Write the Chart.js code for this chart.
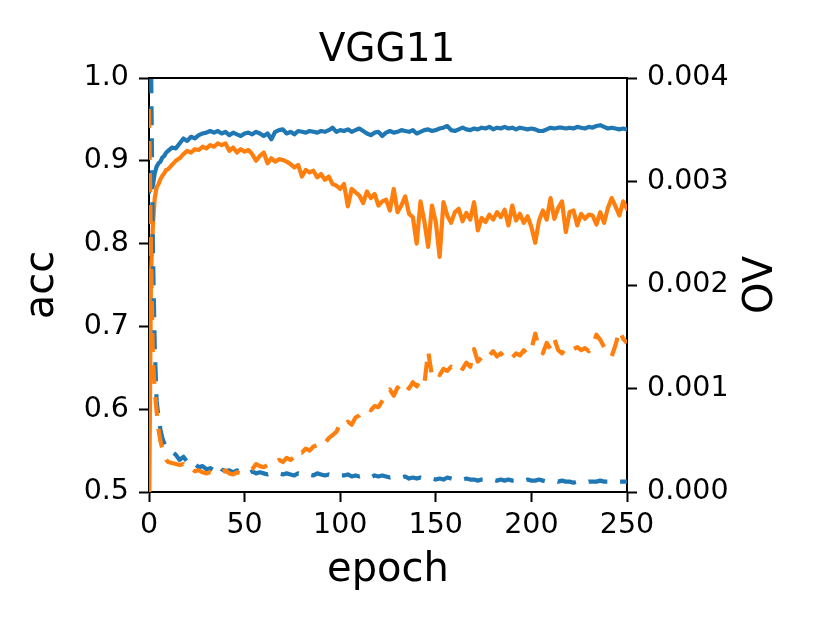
<!DOCTYPE html>
<html>
<head>
<meta charset="utf-8">
<script src="https://cdn.jsdelivr.net/npm/chart.js@4.4.0/dist/chart.umd.min.js"></script>
<style>
  html, body { margin: 0; padding: 0; background: #fff; }
  #wrap { width: 830px; height: 623px; }
</style>
</head>
<body>
<div id="wrap"><canvas id="chart"></canvas></div>
<script>
const titleText = 'VGG11';
const xLabel = 'epoch';
const yLabel = 'acc';
const y2Label = 'OV';

const xTicks = [0, 50, 100, 150, 200, 250];
const accTicks = [0.5, 0.6, 0.7, 0.8, 0.9, 1.0];
const ovTicks = [0, 0.001, 0.002, 0.003, 0.004];

const epochs = [
  0, 1, 2, 3, 4, 5, 6, 7, 8, 9, 10,
  12, 14, 16, 18, 20, 22, 24, 26, 28, 30,
  32, 34, 36, 38, 40, 42, 44, 46, 48, 50,
  52, 54, 56, 58, 60, 62, 64, 66, 68, 70,
  72, 74, 76, 78, 80, 82, 84, 86, 88, 90,
  92, 94, 96, 98, 100, 102, 104, 106, 108, 110,
  112, 114, 116, 118, 120, 122, 124, 126, 128, 130,
  132, 134, 136, 138, 140, 142, 144, 146, 148, 150,
  152, 154, 156, 158, 160, 162, 164, 166, 168, 170,
  172, 174, 176, 178, 180, 182, 184, 186, 188, 190,
  192, 194, 196, 198, 200, 202, 204, 206, 208, 210,
  212, 214, 216, 218, 220, 222, 224, 226, 228, 230,
  232, 234, 236, 238, 240, 242, 244, 246, 248, 250
];

// acc, blue solid
const accBlue = [
  0.862, 0.872, 0.870, 0.885, 0.893, 0.897, 0.899, 0.904, 0.906, 0.910, 0.912,
  0.916, 0.915, 0.921, 0.927, 0.924, 0.929, 0.927, 0.931, 0.933, 0.934,
  0.936, 0.934, 0.936, 0.933, 0.935, 0.931, 0.934, 0.932, 0.930, 0.933,
  0.934, 0.932, 0.935, 0.933, 0.930, 0.933, 0.926, 0.935, 0.937, 0.938,
  0.933, 0.935, 0.932, 0.936, 0.935, 0.934, 0.936, 0.935, 0.934, 0.936,
  0.935, 0.937, 0.940, 0.935, 0.937, 0.936, 0.938, 0.935, 0.937, 0.939,
  0.936, 0.933, 0.931, 0.934, 0.935, 0.930, 0.934, 0.936, 0.934, 0.935,
  0.937, 0.936, 0.935, 0.937, 0.933, 0.935, 0.937, 0.938, 0.936, 0.937,
  0.939, 0.940, 0.942, 0.937, 0.936, 0.938, 0.940, 0.938, 0.937, 0.939,
  0.938, 0.940, 0.939, 0.941, 0.938, 0.940, 0.939, 0.941, 0.939, 0.940,
  0.938, 0.940, 0.939, 0.938, 0.939, 0.938, 0.936, 0.936, 0.938, 0.940,
  0.939, 0.940, 0.940, 0.939, 0.940, 0.939, 0.941, 0.940, 0.939, 0.941,
  0.940, 0.942, 0.943, 0.941, 0.939, 0.940, 0.939, 0.938, 0.939, 0.938
];

// acc, orange solid
const accOrange = [
  0.450, 0.760, 0.820, 0.855, 0.868, 0.872, 0.878, 0.882, 0.885, 0.889, 0.890,
  0.895, 0.900, 0.903, 0.908, 0.912, 0.910, 0.914, 0.913, 0.917, 0.915,
  0.919, 0.917, 0.921, 0.919, 0.921, 0.912, 0.916, 0.910, 0.914, 0.911,
  0.913, 0.908, 0.900, 0.906, 0.910, 0.897, 0.903, 0.899, 0.902, 0.901,
  0.899, 0.896, 0.892, 0.895, 0.881, 0.889, 0.886, 0.888, 0.880, 0.884,
  0.877, 0.881, 0.872, 0.870, 0.866, 0.872, 0.845, 0.866, 0.862, 0.858,
  0.849, 0.863, 0.855, 0.860, 0.846, 0.851, 0.853, 0.840, 0.866, 0.838,
  0.846, 0.857, 0.836, 0.832, 0.800, 0.851, 0.827, 0.796, 0.846, 0.826,
  0.784, 0.850, 0.834, 0.825, 0.838, 0.842, 0.827, 0.837, 0.829, 0.850,
  0.816, 0.831, 0.826, 0.835, 0.829, 0.838, 0.832, 0.841, 0.822, 0.846,
  0.828, 0.836, 0.825, 0.833, 0.820, 0.801, 0.828, 0.840, 0.829, 0.855,
  0.830, 0.843, 0.851, 0.814, 0.838, 0.840, 0.822, 0.836, 0.830, 0.835,
  0.834, 0.823, 0.838, 0.825, 0.843, 0.855, 0.845, 0.834, 0.851, 0.842
];

// OV, blue dashed
const ovBlue = [
  0.0062, 0.0043, 0.0024, 0.0014, 0.00088, 0.00072, 0.00060, 0.00052, 0.00047, 0.00043, 0.00041,
  0.00039, 0.00036, 0.00031, 0.00034, 0.00029, 0.00031, 0.00027, 0.00024, 0.00025, 0.00022,
  0.00023, 0.00021, 0.00026, 0.00022, 0.00020, 0.00021, 0.00019, 0.00021, 0.00019, 0.00019,
  0.00018, 0.00020, 0.00018, 0.00019, 0.00018, 0.00017, 0.00018, 0.00017, 0.00018, 0.00017,
  0.00018, 0.00017, 0.00016, 0.00018, 0.00017, 0.00016, 0.00017, 0.00016, 0.00018, 0.00017,
  0.00016, 0.00017, 0.00016, 0.00017, 0.00016, 0.00016, 0.00017, 0.00015, 0.00016, 0.00015,
  0.00016, 0.00015, 0.00014, 0.00016, 0.00015, 0.00016, 0.00015, 0.00014, 0.00015, 0.00014,
  0.00014, 0.00015, 0.00013, 0.00014, 0.00013, 0.00014, 0.00013, 0.00014, 0.00013, 0.00012,
  0.00013, 0.00012, 0.00014, 0.00013, 0.00012, 0.00013, 0.00012, 0.00013, 0.00012, 0.00012,
  0.00011, 0.00012, 0.00012, 0.00011, 0.00012, 0.00011, 0.00012, 0.00011, 0.00012, 0.00011,
  0.00011, 0.00012, 0.00011, 0.00012, 0.00011, 0.00011, 0.00012, 0.00011, 0.00010, 0.00011,
  0.00011, 0.00010, 0.00011, 0.00010, 0.00010, 0.00009, 0.00010, 0.00010, 0.00009, 0.00010,
  0.00010, 0.00010, 0.00011, 0.00010, 0.00010, 0.00010, 0.00011, 0.00010, 0.00010, 0.00010
];

// OV, orange dashed
const ovOrange = [
  0.0037, 0.0024, 0.0013, 0.00098, 0.00078, 0.00060, 0.00049, 0.00042, 0.00036, 0.00031, 0.00029,
  0.00028, 0.00027, 0.00026, 0.00027, 0.00023, 0.00024, 0.00020, 0.00021, 0.00019, 0.00018,
  0.00019, 0.00018, 0.00017, 0.00019, 0.00021, 0.00018, 0.00017, 0.00019, 0.00018, 0.00019,
  0.00020, 0.00022, 0.00027, 0.00025, 0.00024, 0.00026, 0.00029, 0.00028, 0.00031, 0.00029,
  0.00033, 0.00031, 0.00034, 0.00040, 0.00038, 0.00042, 0.00040, 0.00044, 0.00045, 0.00043,
  0.00047, 0.00052, 0.00055, 0.00058, 0.00066, 0.00064, 0.00068, 0.00065, 0.00072, 0.00074,
  0.00078, 0.00081, 0.00079, 0.00083, 0.00082, 0.00088, 0.00094, 0.00099, 0.00093, 0.00101,
  0.00097, 0.00103, 0.00100, 0.00106, 0.00102, 0.00108, 0.00104, 0.00136, 0.00112, 0.00116,
  0.00113, 0.00119, 0.00117, 0.00121, 0.00118, 0.00122, 0.00119, 0.00125, 0.00121, 0.00138,
  0.00126, 0.00130, 0.00127, 0.00132, 0.00136, 0.00131, 0.00134, 0.00130, 0.00133, 0.00130,
  0.00134, 0.00132, 0.00137, 0.00133, 0.00138, 0.00153, 0.00139, 0.00134, 0.00144, 0.00138,
  0.00148, 0.00137, 0.00134, 0.00139, 0.00136, 0.00138, 0.00140, 0.00137, 0.00139, 0.00136,
  0.00141, 0.00152, 0.00147, 0.00140, 0.00138, 0.00131, 0.00142, 0.00156, 0.00148, 0.00144
];

const blue = '#1f77b4';
const orange = '#ff7f0e';
const font = '"DejaVu Sans", sans-serif';

function points(ys) {
  return epochs.map((e, i) => ({ x: e, y: ys[i] }));
}

function lineSet(label, ys, color, axis, dashed, order) {
  return {
    label: label,
    data: points(ys),
    yAxisID: axis,
    borderColor: color,
    backgroundColor: color,
    borderWidth: 4.2,
    borderDash: dashed ? [19, 13] : [],
    borderCapStyle: dashed ? 'butt' : 'round',
    borderJoinStyle: 'round',
    pointRadius: 0,
    tension: 0,
    clip: 0,
    order: order
  };
}

const axisLook = {
  border: { display: true, color: '#000', width: 2 },
  grid: { display: true, drawOnChartArea: false, drawTicks: true, tickLength: 10, tickWidth: 2, tickColor: '#000' },
};

const framePlugin = {
  id: 'frame',
  afterDraw(chart) {
    const { ctx, chartArea: a } = chart;
    const midX = (a.left + a.right) / 2;
    const midY = (a.top + a.bottom) / 2;
    ctx.save();
    ctx.strokeStyle = '#000';
    ctx.lineWidth = 2;
    ctx.beginPath();
    ctx.moveTo(a.left - 1, a.top);
    ctx.lineTo(a.right + 1, a.top);
    ctx.stroke();

    ctx.fillStyle = '#000';
    ctx.textAlign = 'center';
    ctx.textBaseline = 'alphabetic';
    ctx.font = '39px ' + font;
    ctx.fillText(titleText, midX - 1, 61);

    ctx.font = '40px ' + font;
    ctx.fillText(xLabel, midX, 581);

    ctx.save();
    ctx.translate(53, midY);
    ctx.rotate(-Math.PI / 2);
    ctx.fillText(yLabel, 0, 0);
    ctx.restore();

    ctx.save();
    ctx.translate(772, midY);
    ctx.rotate(-Math.PI / 2);
    ctx.fillText(y2Label, 0, 0);
    ctx.restore();
    ctx.restore();
  }
};

new Chart(document.getElementById('chart'), {
  type: 'line',
  data: {
    datasets: [
      lineSet('acc blue', accBlue, blue, 'y', false, 3),
      lineSet('acc orange', accOrange, orange, 'y', false, 2),
      lineSet('OV blue', ovBlue, blue, 'y1', true, 1),
      lineSet('OV orange', ovOrange, orange, 'y1', true, 0)
    ]
  },
  options: {
    responsive: true,
    maintainAspectRatio: false,
    animation: false,
    layout: { padding: { top: 78, left: 0, right: 0, bottom: 0 } },
    plugins: {
      legend: { display: false },
      tooltip: { enabled: false },
      title: { display: false }
    },
    scales: {
      x: {
        type: 'linear',
        min: 0,
        max: 250,
        ...axisLook,
        afterBuildTicks: axis => { axis.ticks = xTicks.map(v => ({ value: v })); },
        afterFit: axis => { axis.height = 131; },
        ticks: {
          color: '#000',
          font: { family: font, size: 28.5 },
          padding: 6,
          maxRotation: 0,
          autoSkip: false,
          callback: v => String(v)
        }
      },
      y: {
        type: 'linear',
        position: 'left',
        min: 0.5,
        max: 1.0,
        ...axisLook,
        afterBuildTicks: axis => { axis.ticks = accTicks.map(v => ({ value: v })); },
        afterFit: axis => { axis.width = 149; },
        ticks: {
          color: '#000',
          font: { family: font, size: 28.5 },
          padding: 10,
          autoSkip: false,
          callback: v => Number(v).toFixed(1)
        }
      },
      y1: {
        type: 'linear',
        position: 'right',
        min: 0,
        max: 0.004,
        ...axisLook,
        afterBuildTicks: axis => { axis.ticks = ovTicks.map(v => ({ value: v })); },
        afterFit: axis => { axis.width = 203; },
        ticks: {
          color: '#000',
          font: { family: font, size: 28.5 },
          padding: 10,
          autoSkip: false,
          callback: v => Number(v).toFixed(3)
        }
      }
    }
  },
  plugins: [framePlugin]
});
</script>
</body>
</html>
